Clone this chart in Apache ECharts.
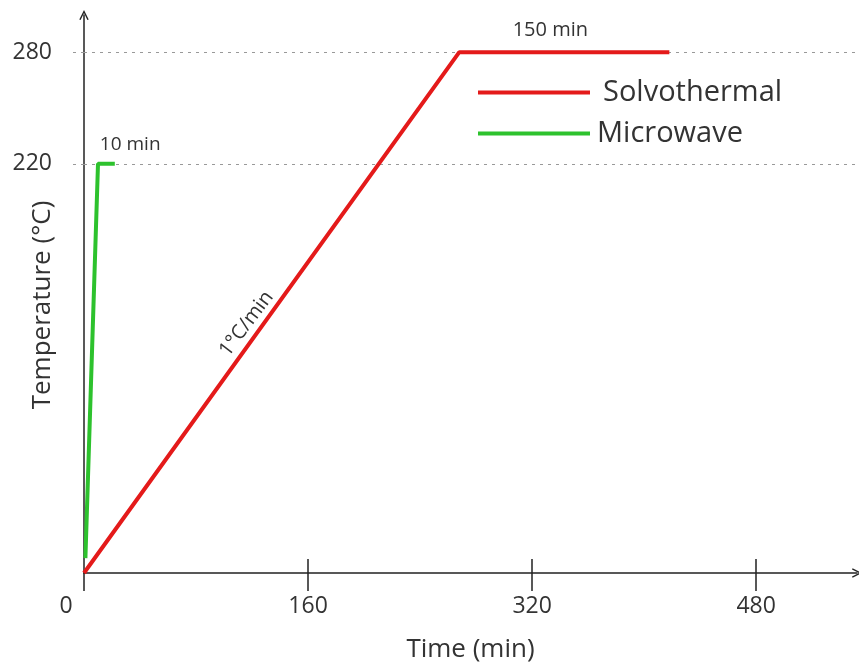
<!DOCTYPE html>
<html>
<head>
<meta charset="utf-8">
<script src="https://cdn.jsdelivr.net/npm/echarts@6/dist/echarts.min.js"></script>
<style>
  html, body { margin: 0; padding: 0; background: #fff; }
  #chart { width: 859px; height: 668px; }
</style>
</head>
<body>
<div id="chart"></div>
<script>
// Heating profiles: [time (min), temperature (°C)]
const solvothermal = [[0, 0], [268, 280], [418, 280]];
const microwave = [[1, 8], [10, 220], [22, 220]];

// Axis ticks and labels
const xTicks = [0, 160, 320, 480];
const yTicks = [220, 280];
const xMax = 552;
const yMax = 300;

// Annotations: [time, temperature, text]
const holdSolvo = [333, 280, '150 min'];
const holdMicro = [33, 220, '10 min'];
const rampNote = [116, 134, '1°C/min'];

const FONT = 'Open Sans';
const TEXT = '#333';
const chevron = 'path://M0,10 L5,0 L10,10 L8.6,10.6 L5,3.2 L1.4,10.6 Z';

const chart = echarts.init(document.getElementById('chart'));

function note(item, offset, rotate, size) {
  return {
    coord: [item[0], item[1]],
    symbolSize: 0,
    label: {
      show: true, formatter: item[2], position: 'inside',
      offset: offset, rotate: rotate || 0,
      fontFamily: FONT, fontSize: size, color: TEXT
    }
  };
}

chart.setOption({
  animation: false,
  textStyle: { fontFamily: FONT },
  grid: { left: 84, right: 2, top: 15, bottom: 95, containLabel: false, outerBoundsMode: 'none' },
  legend: {
    orient: 'vertical',
    left: 478, top: 76, padding: 0,
    icon: 'rect',
    itemWidth: 112, itemHeight: 4,
    itemGap: 8,
    textStyle: { fontFamily: FONT, fontSize: 29, color: TEXT, lineHeight: 33 },
    data: [
      { name: 'Solvothermal', textStyle: { padding: [0, 0, 0, 8] } },
      { name: 'Microwave', textStyle: { padding: [0, 0, 0, 2] } }
    ]
  },
  xAxis: [
    {
      type: 'value', min: 0, max: xMax, position: 'bottom',
      name: 'Time (min)', nameLocation: 'middle', nameGap: 64, nameMoveOverlap: false,
      nameTextStyle: { fontFamily: FONT, fontSize: 26, color: TEXT },
      axisLine: {
        show: true, symbol: ['none', chevron], symbolSize: [13, 10],
        lineStyle: { color: '#222', width: 1.5 }
      },
      axisTick: { show: true, customValues: xTicks, length: 18, lineStyle: { color: '#222', width: 1.5 } },
      axisLabel: {
        show: true, customValues: xTicks, margin: 22,
        fontFamily: FONT, fontSize: 23, color: TEXT,
        formatter: v => v === 0 ? '{o|0}' : String(v),
        rich: { o: { padding: [0, 36, 0, 0], fontFamily: FONT, fontSize: 23, color: TEXT } }
      },
      splitLine: { show: false }
    },
    {
      // upper half of the crossing tick marks
      type: 'value', min: 0, max: xMax, position: 'top', offset: -558,
      axisLine: { show: false },
      axisTick: { show: true, customValues: xTicks.filter(v => v > 0), length: 14, lineStyle: { color: '#222', width: 1.5 } },
      axisLabel: { show: false },
      splitLine: { show: false }
    }
  ],
  yAxis: {
    type: 'value', min: 0, max: yMax,
    name: 'Temperature (°C)', nameLocation: 'middle', nameGap: 28, nameMoveOverlap: false,
    nameTextStyle: { fontFamily: FONT, fontSize: 26, color: TEXT, padding: [0, 22, 0, 0] },
    axisLine: {
      show: true, symbol: ['none', chevron], symbolSize: [13, 10],
      lineStyle: { color: '#222', width: 1.5 }
    },
    axisTick: { show: true, customValues: yTicks, length: 16, lineStyle: { color: '#999', width: 1, type: [3, 5] } },
    axisLabel: { show: true, customValues: yTicks, margin: 32, fontFamily: FONT, fontSize: 23, color: TEXT },
    splitLine: { show: false }
  },
  series: [
    {
      name: 'Solvothermal', type: 'line', data: solvothermal,
      xAxisIndex: 0, symbol: 'none', z: 3,
      lineStyle: { color: '#e41a1a', width: 4 }, itemStyle: { color: '#e41a1a' },
      markLine: {
        silent: true, symbol: 'none', z: 1,
        lineStyle: { color: '#999', width: 1, type: [3, 5] },
        label: { show: false },
        data: yTicks.map(v => ({ yAxis: v }))
      },
      markPoint: {
        silent: true,
        data: [note(holdSolvo, [0, -22], 0, 20), note(rampNote, [0, 0], 53, 20)]
      }
    },
    {
      name: 'Microwave', type: 'line', data: microwave,
      xAxisIndex: 0, symbol: 'none', z: 3,
      lineStyle: { color: '#2dc22d', width: 4 }, itemStyle: { color: '#2dc22d' },
      markPoint: {
        silent: true,
        data: [note(holdMicro, [0, -19], 0, 19)]
      }
    }
  ]
});
</script>
</body>
</html>
